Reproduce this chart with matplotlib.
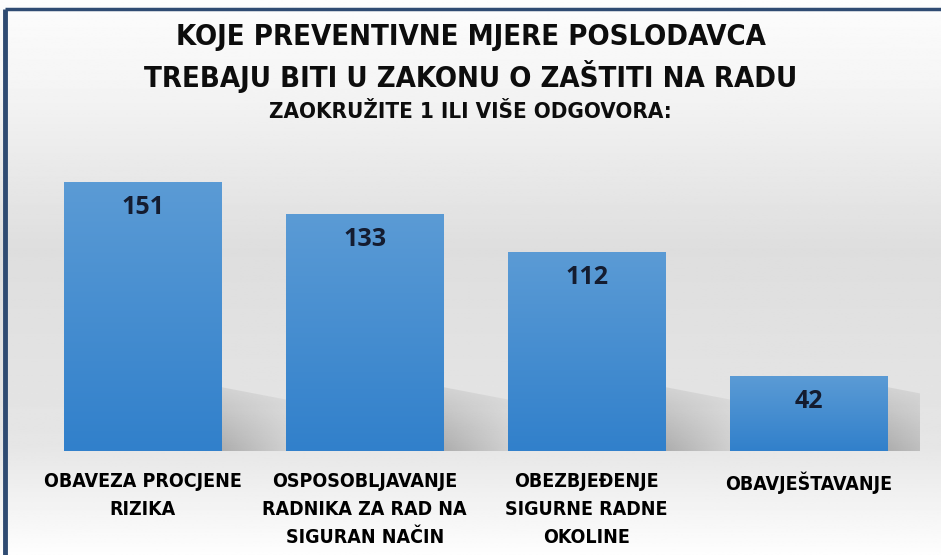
import numpy as np
import matplotlib
matplotlib.use("Agg")
import matplotlib.pyplot as plt
from matplotlib.colors import LinearSegmentedColormap
from matplotlib.patches import Polygon
from matplotlib import font_manager

# data
categories = ["OBAVEZA PROCJENE\nRIZIKA",
              "OSPOSOBLJAVANJE\nRADNIKA ZA RAD NA\nSIGURAN NAČIN",
              "OBEZBJEĐENJE\nSIGURNE RADNE\nOKOLINE",
              "OBAVJEŠTAVANJE"]
values = [151, 133, 112, 42]
title1 = "KOJE PREVENTIVNE MJERE POSLODAVCA"
title2 = "TREBAJU BITI U ZAKONU O ZAŠTITI NA RADU"
subtitle = "ZAOKRUŽITE 1 ILI VIŠE ODGOVORA:"

# condensed bold face if there is one
cond = None
for f in font_manager.fontManager.ttflist:
    if "Condensed" in f.fname and "Bold" in f.fname and "Oblique" not in f.fname:
        cond = f.fname
        break
if cond:
    narrow = font_manager.FontProperties(fname=cond)
else:
    narrow = font_manager.FontProperties(family="DejaVu Sans", weight="bold")

fig = plt.figure(figsize=(9.41, 5.55), dpi=100)

# background gradient over the whole figure
bg = fig.add_axes([0, 0, 1, 1], zorder=-10)
yy = np.linspace(0, 1, 400)[:, None]
shade = np.interp(yy, [0, 0.15, 0.45, 0.8, 1.0], [0.99, 0.96, 0.87, 0.9, 0.995])
bg.imshow(np.repeat(shade, 2, axis=1), cmap="gray", vmin=0, vmax=1,
          aspect="auto", extent=[0, 1, 1, 0])
bg.set_xlim(0, 1); bg.set_ylim(1, 0)
bg.axis("off")
# frame (top and left)
frame = "#2f4b72"
bg.plot([0.005, 1.0], [0.016, 0.016], color=frame, lw=2.5, solid_capstyle="butt")
bg.plot([0.005, 0.005], [0.016, 1.0], color=frame, lw=3.5, solid_capstyle="butt")

ax = fig.add_axes([0.0335, 0.1874, 0.944, 0.5117])
ax.set_facecolor("none")
x = np.arange(len(values))
width = 0.707
bars = ax.bar(x, values, width=width, color="none", zorder=3)

bar_cmap = LinearSegmentedColormap.from_list("b", ["#3180cb", "#5b9bd5"])
grad = np.linspace(0, 1, 256)[:, None]
shadow_cmap = LinearSegmentedColormap.from_list("s", [(0.5, 0.5, 0.5, 0.0), (0.5, 0.5, 0.5, 0.55)])
for b, v in zip(bars, values):
    x0, w, h = b.get_x(), b.get_width(), b.get_height()
    # shadow thrown to the right of the bar
    sh = min(h, 36)
    poly = Polygon([(x0 + w, 0), (x0 + w, sh), (x0 + w + 0.3, sh * 0.8), (x0 + w + 0.5, 0)],
                   closed=True, facecolor="none", edgecolor="none")
    ax.add_patch(poly)
    g = np.outer(np.linspace(0.3, 1, 32), np.linspace(1, 0, 64))
    im = ax.imshow(g, cmap=shadow_cmap, vmin=0, vmax=1, aspect="auto",
                   extent=[x0 + w, x0 + w + 0.5, 0, sh], zorder=2)
    im.set_clip_path(poly)
    ax.imshow(grad, cmap=bar_cmap, aspect="auto", extent=[x0, x0 + w, 0, h],
              origin="lower", zorder=3)
    ax.text(x0 + w / 2, h - 14, str(v), ha="center", va="center",
            fontsize=18, fontweight="bold", color="#141c30", zorder=4,
            family=["Open Sans", "DejaVu Sans"])
ax.set_xlim(-0.5, len(values) - 0.5)
ax.set_ylim(0, 160)

ax.set_xticks(x)
ax.set_xticklabels(categories, fontproperties=narrow, linespacing=1.6, va="top")
for t in ax.get_xticklabels():
    t.set_fontsize(14)
ax.tick_params(axis="x", length=0, pad=15)
ax.set_yticks([])
for s in ax.spines.values():
    s.set_visible(False)

tp = narrow.copy(); tp.set_size(21)
sp = narrow.copy(); sp.set_size(16)
fig.text(0.5, 0.933, title1, ha="center", va="center", fontproperties=tp, color="#0d0d0d")
fig.text(0.5, 0.862, title2, ha="center", va="center", fontproperties=tp, color="#0d0d0d")
fig.text(0.5, 0.798, subtitle, ha="center", va="center", fontproperties=sp, color="#0d0d0d")

fig.savefig("out.png", dpi=100)
